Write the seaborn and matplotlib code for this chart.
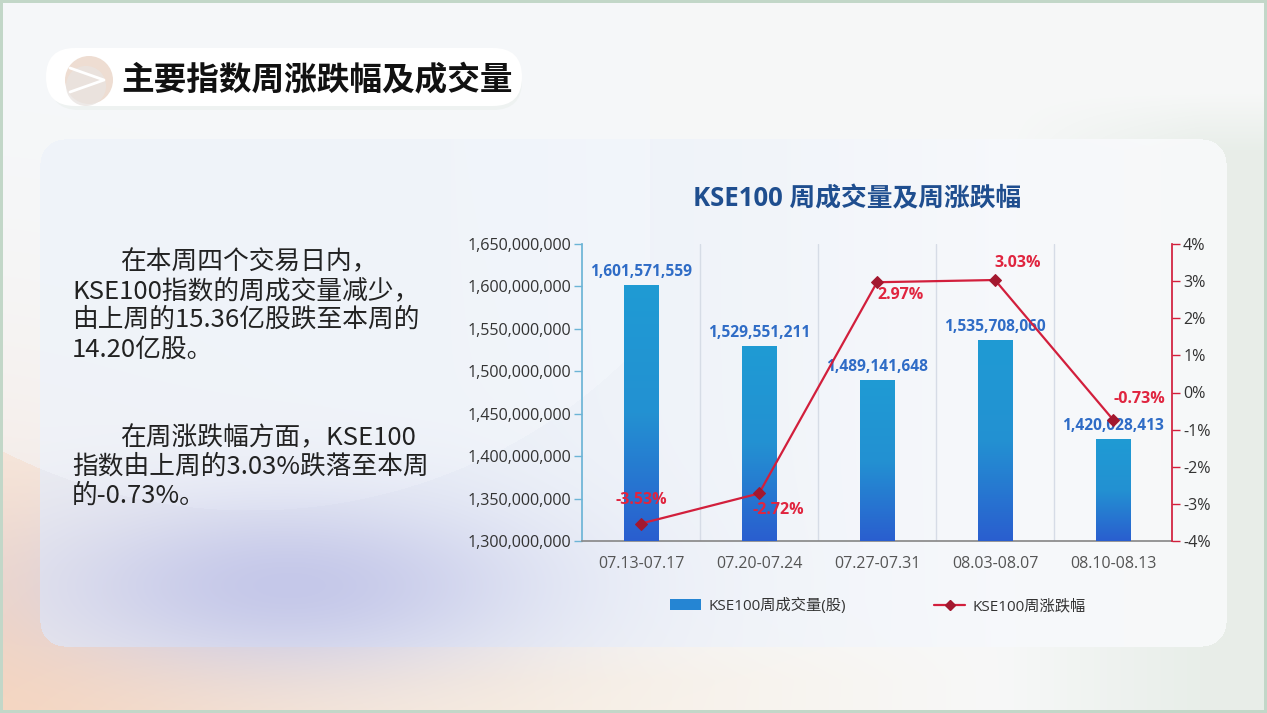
import numpy as np
import pandas as pd
import matplotlib
matplotlib.use("Agg")
import matplotlib.pyplot as plt
import seaborn as sns
from matplotlib.patches import FancyBboxPatch, Circle, Patch
from matplotlib.lines import Line2D
from matplotlib.colors import LinearSegmentedColormap, to_rgb
from matplotlib.ticker import FuncFormatter

# chart data
weeks = ["07.13-07.17", "07.20-07.24", "07.27-07.31", "08.03-08.07", "08.10-08.13"]
volumes = [1601571559, 1529551211, 1489141648, 1535708060, 1420028413]
pct_change = [-3.53, -2.72, 2.97, 3.03, -0.73]

slide_title = "主要指数周涨跌幅及成交量"
chart_title = "KSE100 周成交量及周涨跌幅"
bar_name = "KSE100周成交量(股)"
line_name = "KSE100周涨跌幅"
para1 = ["在本周四个交易日内，", "KSE100指数的周成交量减少，",
         "由上周的15.36亿股跌至本周的", "14.20亿股。"]
para2 = ["在周涨跌幅方面，KSE100", "指数由上周的3.03%跌落至本周", "的-0.73%。"]

sns.set_theme(style="white")
plt.rcParams["font.family"] = ["Open Sans", "Noto Sans CJK SC", "DejaVu Sans"]

W, H = 1267, 713
fig = plt.figure(figsize=(W / 100, H / 100), dpi=100)

# ---- slide background (pixel coords) ----
bg = fig.add_axes([0, 0, 1, 1])
bg.set_xlim(0, W)
bg.set_ylim(H, 0)
bg.axis("off")

yy, xx = np.mgrid[0:H, 0:W].astype(float)
img = np.ones((H, W, 3)) * np.array(to_rgb("#f7f8f8"))

def blend(img, color, weight):
    c = np.array(to_rgb(color))
    w = np.clip(weight, 0, 1)[..., None]
    return img * (1 - w) + c * w

# greenish shade lower right, cream bottom strip and peach corner
img = blend(img, "#e8eee9", np.clip((yy - 90) / 60, 0, 1) * np.clip((xx - 1000) / 200, 0, 1))
img = blend(img, "#f8efe4", np.clip((yy - 600) / 80, 0, 1) * np.clip((1000 - xx) / 500, 0, 1))
img = blend(img, "#f6d6c0", np.exp(-((xx + 60) ** 2 / (2 * 260 ** 2) + (yy - 700) ** 2 / (2 * 230 ** 2))))

# panel
px0, px1, py0, py1, r = 40, 1226, 139, 646, 24
dx = np.maximum(np.maximum(px0 + r - xx, xx - (px1 - r)), 0)
dy = np.maximum(np.maximum(py0 + r - yy, yy - (py1 - r)), 0)
inside = (np.hypot(dx, dy) <= r) & (xx >= px0) & (xx <= px1) & (yy >= py0) & (yy <= py1)
panel = np.ones((H, W, 3)) * np.array(to_rgb("#e8eef8"))
panel = blend(panel, "#fafbfd", np.clip((xx - 450) / 700, 0, 1))
img = np.where(inside[..., None], img * 0.2 + panel * 0.8, img)
# white arc and lavender haze on the left
arc = ((xx - 250) ** 2 / 520 ** 2 + (yy - 20) ** 2 / 490 ** 2) < 1
img = blend(img, "#f5f8fc", arc * 0.5 * (xx < 650))
img = blend(img, "#c1c4e8", 0.9 * np.exp(-((xx - 290) ** 2 / (2 * 170 ** 2) + (yy - 585) ** 2 / (2 * 60 ** 2))))
# slide border
border = (xx < 3) | (xx > W - 4) | (yy < 3) | (yy > H - 4)
img[border] = to_rgb("#c2d7c8")
bg.imshow(img, extent=[0, W, H, 0], aspect="auto", zorder=0)

# title badge
bg.add_patch(FancyBboxPatch((50, 52), 472, 58, boxstyle="round,pad=0,rounding_size=29",
                            fc="#eef2f1", ec="none", zorder=1))
bg.add_patch(FancyBboxPatch((46, 48), 476, 58, boxstyle="round,pad=0,rounding_size=29",
                            fc="white", ec="none", zorder=2))
bg.add_patch(Circle((89, 80), 24, fc="#eeddd2", ec="none", zorder=3))
bg.add_patch(Circle((86, 86), 20, fc="#e9e4e1", ec="none", alpha=0.8, zorder=3))
bg.plot([70, 104, 70], [68, 80, 92], color="white", lw=2, zorder=4, solid_capstyle="round")
bg.text(121, 81, slide_title, fontsize=23.5, fontweight="bold", color="#111111",
        va="center", ha="left", family=["Noto Sans CJK SC"], zorder=5)

# left paragraphs
tx_kw = dict(fontsize=18.5, color="#222222", va="center", ha="left", family=["Noto Sans CJK SC"], zorder=5)
for i, (line, y) in enumerate(zip(para1, [262, 291, 320, 350])):
    bg.text(120 if i == 0 else 72, y, line, **tx_kw)
for i, (line, y) in enumerate(zip(para2, [438, 467, 496])):
    bg.text(120 if i == 0 else 72, y, line, **tx_kw)

# chart title
bg.text(857, 199, chart_title, fontsize=18.5, fontweight="bold", color="#1f4e8f",
        ha="center", va="center", zorder=5)

# ---- chart ----
ax = fig.add_axes([582 / W, 1 - 541 / H, (1172 - 582) / W, (541 - 244) / H])
ax.set_facecolor("none")
df = pd.DataFrame({"week": weeks, "volume": volumes, "pct": pct_change})
sns.barplot(data=df, x="week", y="volume", ax=ax, width=0.29, color="#2585d3", zorder=3)

ymin, ymax = 1.30e9, 1.65e9
cmap = LinearSegmentedColormap.from_list("bar", ["#2a5ecf", "#2391d2", "#1f9bd4"])
grad = np.linspace(0, 1, 256).reshape(-1, 1)
for p in ax.patches:
    x0, w, h = p.get_x(), p.get_width(), p.get_height()
    ax.imshow(grad, extent=[x0, x0 + w, ymin, h], origin="lower", cmap=cmap,
              aspect="auto", zorder=3)
    p.set_facecolor("none")
    p.set_edgecolor("none")
    ax.annotate(f"{int(h):,}", (x0 + w / 2, h), xytext=(0, 4), textcoords="offset points",
                ha="center", va="bottom", fontsize=11.2, fontweight="bold", color="#2f6cc6", zorder=6)

ax.set_xlim(-0.5, 4.5)
ax.set_ylim(ymin, ymax)
ax.set_yticks(np.arange(ymin, ymax + 1, 5e7))
ax.yaxis.set_major_formatter(FuncFormatter(lambda v, _: f"{int(round(v)):,}"))
ax.set_xlabel("")
ax.set_ylabel("")
for gx in [0.5, 1.5, 2.5, 3.5]:
    ax.axvline(gx, color="#d6dce6", lw=1, zorder=1)
ax.tick_params(axis="y", which="major", left=True, length=6, width=1, color="#6cb4d6",
               labelsize=11.6, labelcolor="#333333", pad=2)
ax.tick_params(axis="x", length=0, labelsize=11.5, labelcolor="#555555", pad=11)
ax.spines["top"].set_visible(False)
ax.spines["right"].set_visible(False)
ax.spines["left"].set_color("#6cb4d6")
ax.spines["bottom"].set_color("#8a8a8a")

ax2 = ax.twinx()
sns.lineplot(x=np.arange(len(pct_change)), y=pct_change, ax=ax2, color="#d21f3c", lw=1.6,
             marker="D", markersize=6.5, markerfacecolor="#a3182f", markeredgecolor="#a3182f", zorder=5)
ax2.set_ylim(-4, 4)
ax2.set_yticks(np.arange(-4, 5, 1))
ax2.yaxis.set_major_formatter(FuncFormatter(lambda v, _: f"{int(v)}%"))
ax2.set_ylabel("")
ax2.tick_params(axis="y", right=True, length=6, width=1, color="#d21f3c",
                labelsize=11.6, labelcolor="#333333", pad=2)
for s in ["top", "left", "bottom"]:
    ax2.spines[s].set_visible(False)
ax2.spines["right"].set_color("#d21f3c")
ax2.set_xlim(-0.5, 4.5)

offsets = [(0, 17), (14, -12), (17, -9), (16, 12), (19, 15)]
for i, (v, off) in enumerate(zip(pct_change, offsets)):
    ax2.annotate(f"{v:.2f}%", (i, v), xytext=off, textcoords="offset points",
                 ha="center", va="center", fontsize=11.5, fontweight="bold", color="#e0253f", zorder=7)

handles = [Patch(facecolor="#2585d3", edgecolor="none"),
           Line2D([0], [0], color="#d21f3c", lw=1.6, marker="D", markersize=5.5,
                  markerfacecolor="#a3182f", markeredgecolor="#a3182f")]
fig.legend(handles, [bar_name, line_name], loc="center", bbox_to_anchor=(878 / W, 1 - 606 / H),
           ncol=2, frameon=False, fontsize=11, columnspacing=5.8, handlelength=2.0,
           handletextpad=0.5, labelcolor="#333333")

fig.savefig("out.png", dpi=100)
